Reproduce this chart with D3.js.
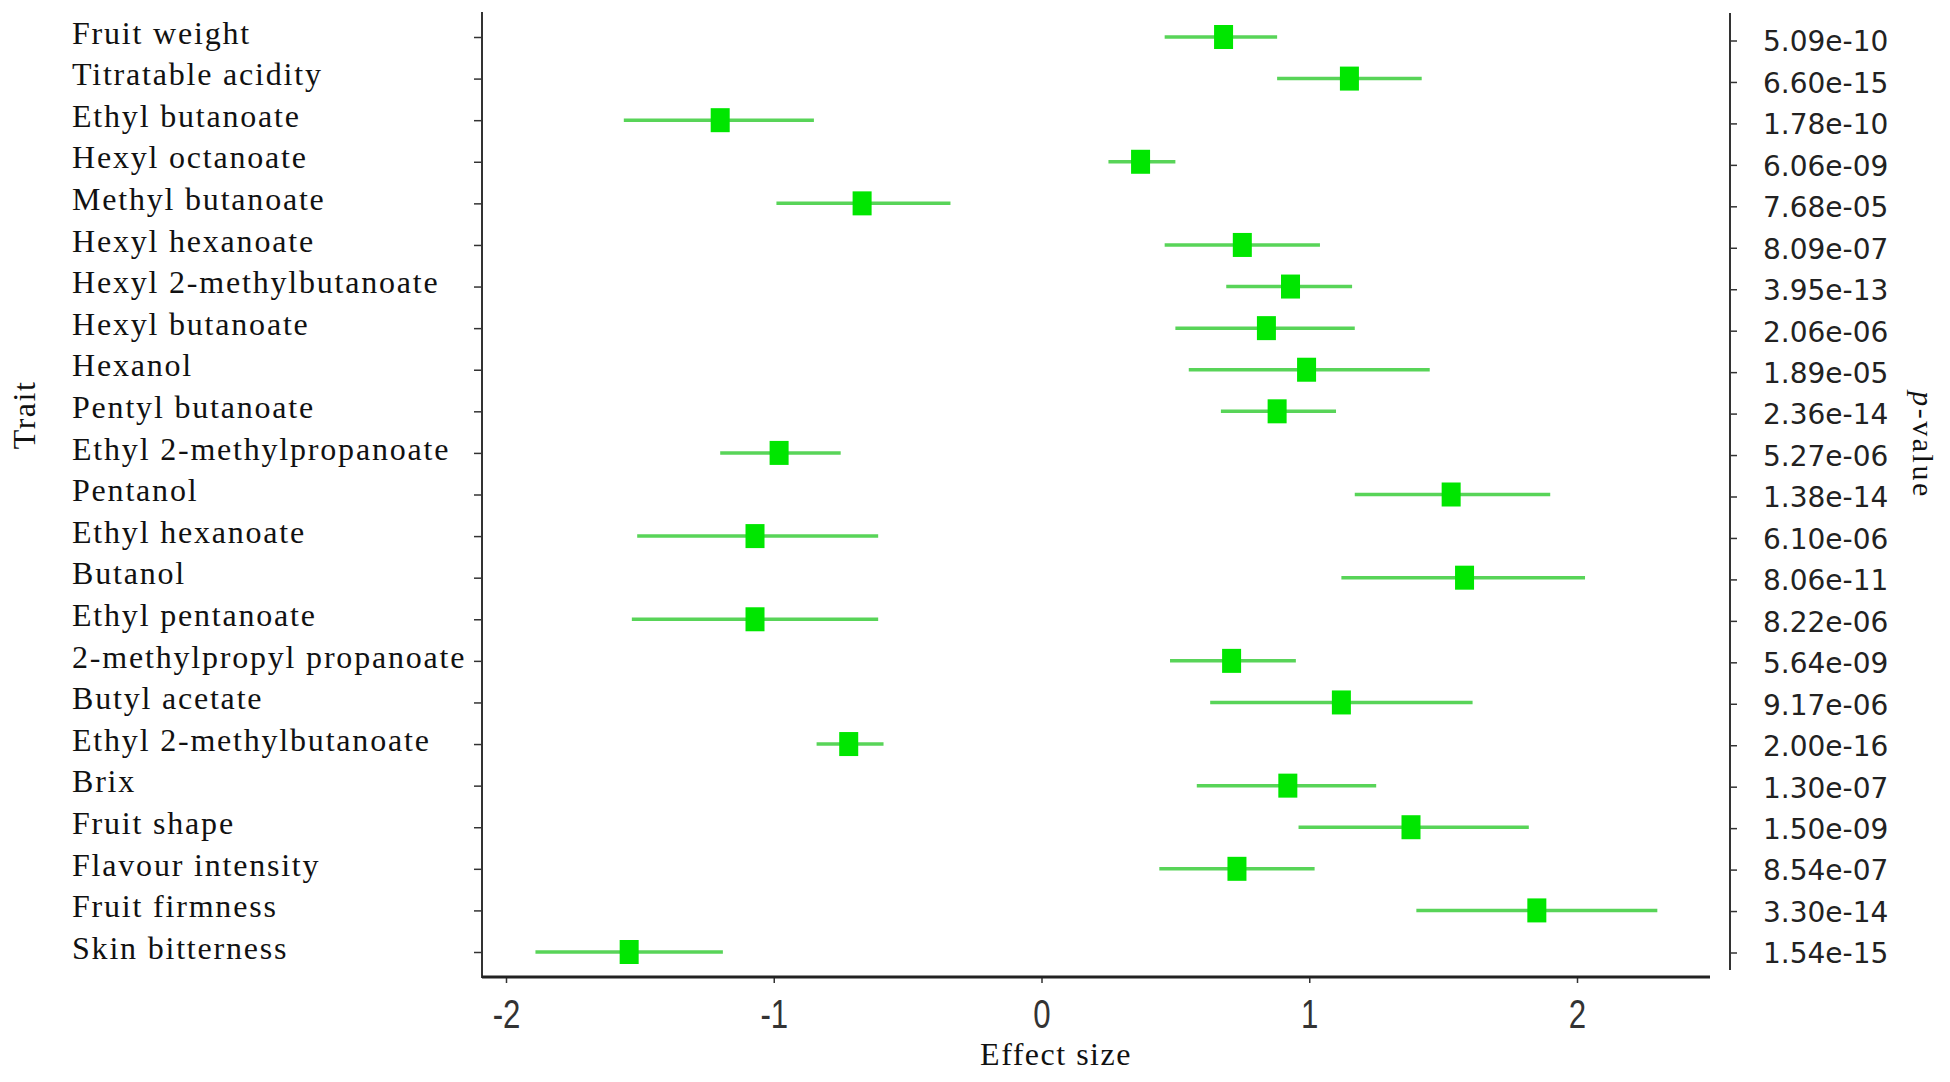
<!DOCTYPE html>
<html>
<head>
<meta charset="utf-8">
<title>Effect size forest plot</title>
<script src="https://cdn.jsdelivr.net/npm/d3@7"></script>
<style>
  html, body { margin: 0; padding: 0; background: #fff; }
  svg { display: block; }
</style>
</head>
<body>
<script>
// traits, top to bottom
const traits = [
  'Fruit weight', 'Titratable acidity', 'Ethyl butanoate', 'Hexyl octanoate',
  'Methyl butanoate', 'Hexyl hexanoate', 'Hexyl 2-methylbutanoate', 'Hexyl butanoate',
  'Hexanol', 'Pentyl butanoate', 'Ethyl 2-methylpropanoate', 'Pentanol',
  'Ethyl hexanoate', 'Butanol', 'Ethyl pentanoate', '2-methylpropyl propanoate',
  'Butyl acetate', 'Ethyl 2-methylbutanoate', 'Brix', 'Fruit shape',
  'Flavour intensity', 'Fruit firmness', 'Skin bitterness'
];
const effect = [0.68, 1.15, -1.20, 0.37, -0.67, 0.75, 0.93, 0.84, 0.99, 0.88, -0.98, 1.53,
  -1.07, 1.58, -1.07, 0.71, 1.12, -0.72, 0.92, 1.38, 0.73, 1.85, -1.54];
const lower = [0.46, 0.88, -1.56, 0.25, -0.99, 0.46, 0.69, 0.50, 0.55, 0.67, -1.20, 1.17,
  -1.51, 1.12, -1.53, 0.48, 0.63, -0.84, 0.58, 0.96, 0.44, 1.40, -1.89];
const upper = [0.88, 1.42, -0.85, 0.50, -0.34, 1.04, 1.16, 1.17, 1.45, 1.10, -0.75, 1.90,
  -0.61, 2.03, -0.61, 0.95, 1.61, -0.59, 1.25, 1.82, 1.02, 2.30, -1.19];
const pvalues = ['5.09e-10', '6.60e-15', '1.78e-10', '6.06e-09', '7.68e-05', '8.09e-07',
  '3.95e-13', '2.06e-06', '1.89e-05', '2.36e-14', '5.27e-06', '1.38e-14', '6.10e-06',
  '8.06e-11', '8.22e-06', '5.64e-09', '9.17e-06', '2.00e-16', '1.30e-07', '1.50e-09',
  '8.54e-07', '3.30e-14', '1.54e-15'];
const xTicks = [-2, -1, 0, 1, 2];

const W = 1950, H = 1082;
const serif = '"Liberation Serif", "Times New Roman", serif';

const svg = d3.select('body').append('svg').attr('width', W).attr('height', H);

const x = d3.scaleLinear().domain([-2, 2]).range([506, 1577]);
const y = d3.scalePoint().domain(d3.range(traits.length)).range([37, 952]);
const yR = d3.scalePoint().domain(d3.range(traits.length)).range([40.5, 952.5]);

// left axis (ticks only, labels drawn separately)
const gL = svg.append('g').attr('transform', 'translate(482,0)')
  .call(d3.axisLeft(y).tickSize(8).tickFormat(''));
gL.select('.domain').remove();
gL.selectAll('.tick line').attr('stroke', '#333').attr('stroke-width', 1.5);
gL.append('line').attr('y1', 12).attr('y2', 978).attr('stroke', '#333').attr('stroke-width', 2);

svg.append('g').selectAll('text').data(traits).join('text')
  .attr('x', 72).attr('y', (d, i) => y(i)).attr('dy', '0.21em')
  .attr('font-family', serif).attr('font-size', 32).attr('letter-spacing', 1.8)
  .attr('fill', '#111')
  .text(d => d);

// right axis with p-values
const gR = svg.append('g').attr('transform', 'translate(1730,0)')
  .call(d3.axisRight(yR).tickSize(7).tickPadding(26).tickFormat(i => pvalues[i]));
gR.select('.domain').remove();
gR.selectAll('.tick line').attr('stroke', '#333').attr('stroke-width', 1.5);
gR.selectAll('.tick text')
  .attr('dy', '0.37em')
  .attr('font-family', '"DejaVu Sans", Verdana, sans-serif').attr('font-size', 28)
  .attr('fill', '#222');
gR.append('line').attr('y1', 13).attr('y2', 970).attr('stroke', '#333').attr('stroke-width', 2);

// bottom axis
const gB = svg.append('g').attr('transform', 'translate(0,977)')
  .call(d3.axisBottom(x).tickValues(xTicks).tickSize(6).tickPadding(17).tickFormat(d => String(d)));
gB.select('.domain').remove();
gB.selectAll('.tick line').attr('stroke', '#333').attr('stroke-width', 1.5);
gB.selectAll('.tick text')
  .attr('font-family', '"Liberation Sans Narrow", "Arial Narrow", "Liberation Sans", sans-serif')
  .attr('font-size', 40).attr('fill', '#333')
  .attr('transform', 'scale(0.78,1)');
gB.append('line').attr('x1', 482).attr('x2', 1710).attr('stroke', '#222').attr('stroke-width', 3);

// error bars
svg.append('g').selectAll('line').data(traits).join('line')
  .attr('x1', (d, i) => x(lower[i])).attr('x2', (d, i) => x(upper[i]))
  .attr('y1', (d, i) => y(i)).attr('y2', (d, i) => y(i))
  .attr('stroke', '#58d458').attr('stroke-width', 3.5);

// point estimates
svg.append('g').selectAll('rect').data(traits).join('rect')
  .attr('x', (d, i) => x(effect[i]) - 9.5).attr('y', (d, i) => y(i) - 12)
  .attr('width', 19).attr('height', 24)
  .attr('fill', '#00e600');

// axis titles
svg.append('text').attr('x', 1056).attr('y', 1065).attr('text-anchor', 'middle')
  .attr('font-family', serif).attr('font-size', 32).attr('letter-spacing', 1.5).attr('fill', '#111')
  .text('Effect size');

svg.append('text').attr('transform', 'translate(35,415) rotate(-90)').attr('text-anchor', 'middle')
  .attr('font-family', serif).attr('font-size', 32).attr('letter-spacing', 1.5).attr('fill', '#111')
  .text('Trait');

const pv = svg.append('text').attr('transform', 'translate(1913,445) rotate(90)').attr('text-anchor', 'middle')
  .attr('font-family', serif).attr('font-size', 30).attr('letter-spacing', 2.5).attr('fill', '#111');
pv.append('tspan').attr('font-style', 'italic').text('p');
pv.append('tspan').text('-value');
</script>
</body>
</html>
